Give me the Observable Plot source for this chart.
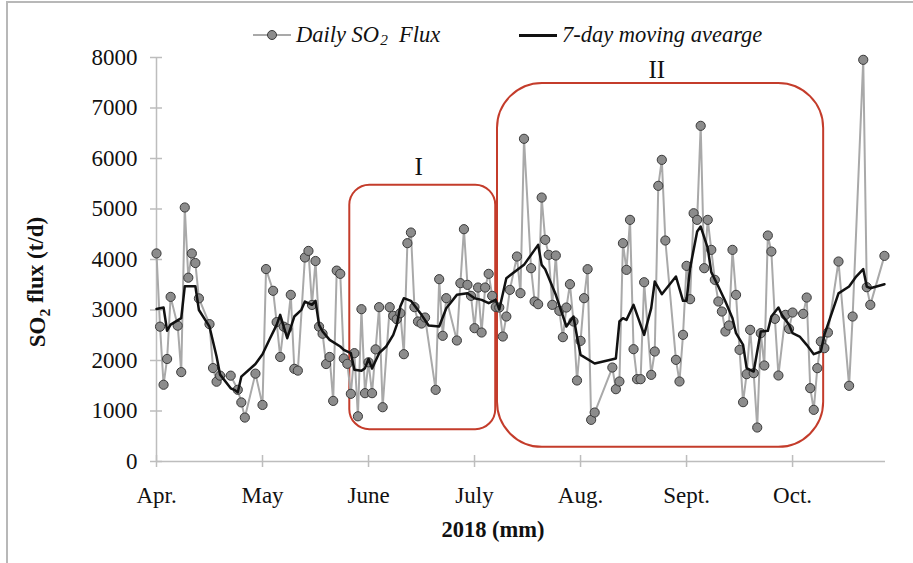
<!DOCTYPE html>
<html>
<head>
<meta charset="utf-8">
<script src="https://cdn.jsdelivr.net/npm/d3@7"></script>
<script src="https://cdn.jsdelivr.net/npm/@observablehq/plot@0.6"></script>
<style>
  html, body { margin: 0; padding: 0; background: #fff; }
  body { width: 913px; height: 563px; position: relative; overflow: hidden;
         font-family: "Liberation Serif", "Times New Roman", serif; color: #111; }
  #frameTop { position: absolute; left: 6px; top: 1px; width: 907px; height: 0; border-top: 2px solid #b8b8b8; }
  #frameLeft { position: absolute; left: 6px; top: 1px; width: 0; height: 562px; border-left: 2px solid #b8b8b8; }
  #legend { position: relative; height: 46px; }
  .lg { position: absolute; top: 22px; height: 26px; line-height: 26px; font-style: italic;
        font-size: 22.5px; white-space: nowrap; display: flex; align-items: center; }
  .sw { position: relative; display: inline-block; width: 38px; height: 26px; margin-right: 5px; }
  .sw .ln { position: absolute; left: 0; right: 0; top: 12px; height: 2px; }
  .sw .dt { position: absolute; left: 14px; top: 8px; border-radius: 50%;
            background: #8c8c8c; border: 1px solid #3a3a3a; box-sizing: border-box; width: 10px; height: 10px; }
  .lg .sb { font-size: 0.68em; position: relative; top: 0.35em; margin-left: 1px; }
  #chart { position: absolute; left: 0; top: 46px; }
</style>
</head>
<body>
<div id="frameTop"></div>
<div id="frameLeft"></div>
<div id="legend">
  <div class="lg" style="left:253px"><span class="sw"><span class="ln" style="background:#a9a9a9"></span><span class="dt"></span></span>Daily SO<span class="sb">2</span>&nbsp; Flux</div>
  <div class="lg" style="left:519px"><span class="sw"><span class="ln" style="background:#111;height:2.5px"></span></span>7-day moving avearge</div>
</div>
<div id="chart"></div>
<script>
// ---- Data (day offsets counted from 1 April 2018) ----
const days = [0,1,2,3,4,6,7,8,9,10,11,12,15,16,17,18,21,23,24,25,28,30,31,33,34,35,36,37,38,39,40,42,43,44,45,46,47,48,49,50,51,52,53,54,55,56,57,58,59,60,61,62,63,64,66,67,68,69,70,71,72,73,74,75,76,79,80,81,82,85,86,87,88,89,90,91,92,93,94,95,96,97,98,99,100,102,103,104,106,107,108,109,110,111,112,113,114,115,116,117,118,119,120,121,122,123,124,129,130,131,132,133,134,135,136,137,138,140,141,142,143,144,147,148,149,150,151,152,153,154,155,156,157,158,159,160,161,162,163,164,165,166,167,168,169,170,171,172,173,174,175,176,178,179,180,183,184,185,186,187,188,189,190,193,196,197,200,201,202,206];
const flux = [4120,2670,1520,2030,3260,2690,1770,5030,3640,4120,3930,3230,2720,1850,1580,1700,1700,1420,1170,870,1740,1120,3810,3380,2760,2070,2670,2630,3300,1835,1800,4040,4170,3100,3970,2670,2530,1930,2070,1200,3780,3716,2040,1934,1340,2145,895,3016,1353,1965,1353,2220,3056,1075,3056,2885,2818,2937,2125,4323,4534,3056,2772,2732,2851,1419,3610,2489,3234,2396,3531,4600,3498,3280,2640,3445,2554,3445,3716,3280,3060,3049,2475,2871,3399,4059,3333,6390,3828,3168,3115,5227,4390,4092,3102,4079,2984,2462,3049,3511,2772,1604,2389,3234,3808,825,970,1861,1432,1584,4323,3795,4785,2224,1630,1630,3550,1716,2178,5459,5973,4376,2013,1584,2508,3874,3214,4916,4785,6647,3828,4785,4191,3597,3168,2970,2574,2693,4191,3300,2211,1175,1729,2607,1749,673,2541,1901,4475,4158,2825,1703,2904,2627,2950,2924,3247,1452,1023,1848,2376,2244,2554,3960,1499,2871,7954,3451,3102,4072];

const maDays = [0,2,3,4,7,8,11,12,15,17,18,21,22,23,24,28,30,32,34,35,36,37,39,41,42,44,45,46,47,49,52,53,55,56,58,59,60,61,63,65,67,68,69,70,72,75,77,80,82,85,88,90,92,94,96,97,99,104,108,109,110,113,116,118,119,120,124,130,131,132,133,135,138,140,141,143,147,149,150,151,153,154,156,157,159,161,163,164,166,167,169,170,171,173,174,176,177,179,180,182,184,186,188,189,193,196,198,200,201,202,206];
const maFlux = [3020,3050,2590,2710,2840,3470,3470,3000,2670,2080,1720,1450,1420,1370,1680,1930,2125,2420,2706,2904,2673,2442,2871,3003,3168,3102,3181,2706,2574,2409,2277,2211,2145,1815,1796,1848,2030,1840,2145,2277,2508,2706,3069,3234,3181,2904,2693,2673,3036,3300,3333,3234,3201,3135,3201,3010,3630,3894,4290,3894,3808,3300,2673,2871,2475,2112,1940,2040,2772,2838,2805,3102,2508,3036,3564,3313,3663,3181,3181,3828,4554,4653,4224,3750,3465,3168,2838,2541,2310,1848,1782,2178,2574,2587,2871,3049,2900,2706,2541,2475,2310,2125,2178,2508,3330,3465,3663,3808,3465,3432,3511];

const tickDays = [0,30,60,90,120,150,180];
const monthLabels = ["Apr.","May","June","July","Aug.","Sept.","Oct."];
const yTicks = [0,1000,2000,3000,4000,5000,6000,7000,8000];

// highlighted periods (day range, flux range) and their labels
const periodLabels = ["I","II"];
const periodX1 = [54.7, 96.5];
const periodX2 = [96.0, 188.8];
const periodY1 = [630, 280];
const periodY2 = [5470, 7486];
const periodLabelX = [74.2, 141.6];
const periodLabelY = [5830, 7750];

const daily = days.map((d, i) => ({day: d, value: flux[i]}));
const ma = maDays.map((d, i) => ({day: d, value: maFlux[i]}));
const periods = periodLabels.map((l, i) => ({label: l, x1: periodX1[i], x2: periodX2[i], y1: periodY1[i], y2: periodY2[i], lx: periodLabelX[i], ly: periodLabelY[i]}));

const axisGray = "#bdbdbd";
const red = "#c43c2b";

const chart = Plot.plot({
  width: 913,
  height: 517,
  marginLeft: 156,
  marginRight: 28,
  marginTop: 11,
  marginBottom: 102,
  style: {fontFamily: "'Liberation Serif', 'Times New Roman', serif", fontSize: "23px", color: "#111", background: "transparent"},
  x: {type: "linear", domain: [0, 206.3]},
  y: {domain: [0, 8000]},
  marks: [
    Plot.ruleY([0], {stroke: axisGray, strokeWidth: 1.5}),
    Plot.ruleX([0], {stroke: axisGray, strokeWidth: 1.5}),
    Plot.axisX(tickDays, {tickSize: 12, dy: -6, stroke: axisGray, strokeWidth: 1.5, fill: "none", label: null}),
    Plot.axisX(tickDays, {tickSize: 0, tickPadding: 25, tickFormat: d => monthLabels[tickDays.indexOf(d)], fill: "#111", label: null}),
    Plot.axisY(yTicks, {tickSize: 12, dx: 6, stroke: axisGray, strokeWidth: 1.5, fill: "none", label: null}),
    Plot.axisY(yTicks, {tickSize: 0, tickPadding: 19, tickFormat: d => String(d), fill: "#111", label: null}),
    Plot.rect(periods.filter(p => p.label === "I"), {x1: "x1", x2: "x2", y1: "y1", y2: "y2", rx: 20, fill: "none", stroke: red, strokeWidth: 2}),
    Plot.rect(periods.filter(p => p.label === "II"), {x1: "x1", x2: "x2", y1: "y1", y2: "y2", rx: 45, fill: "none", stroke: red, strokeWidth: 2}),
    Plot.text(periods, {x: "lx", y: "ly", text: "label", fontSize: 25, fill: "#111"}),
    Plot.line(daily, {x: "day", y: "value", stroke: "#a9a9a9", strokeWidth: 2}),
    Plot.dot(daily, {x: "day", y: "value", r: 4.6, fill: "#8c8c8c", stroke: "#3a3a3a", strokeWidth: 1}),
    Plot.line(ma, {x: "day", y: "value", stroke: "#111", strokeWidth: 2.5}),
    Plot.text(["SO2 flux (t/d)"], {frameAnchor: "left", rotate: -90, fontWeight: "bold", fontSize: 23, fill: "#111", className: "ytitle"}),
    Plot.text(["2018 (mm)"], {frameAnchor: "bottom", dx: -28, dy: 75, fontWeight: "bold", fontSize: 22.5, fill: "#111"})
  ]
});

// y-axis title: true subscript for SO2, placed left of the tick labels
chart.querySelectorAll("text").forEach(t => {
  if (t.textContent === "SO2 flux (t/d)") {
    while (t.firstChild) t.removeChild(t.firstChild);
    const ns = "http://www.w3.org/2000/svg";
    const a = document.createElementNS(ns, "tspan"); a.textContent = "SO";
    const b = document.createElementNS(ns, "tspan"); b.textContent = "2"; b.setAttribute("dy", "0.3em"); b.setAttribute("font-size", "0.68em");
    const c = document.createElementNS(ns, "tspan"); c.textContent = " flux (t/d)"; c.setAttribute("dy", "-0.3em");
    t.append(a, b, c);
    t.removeAttribute("x"); t.removeAttribute("y");
    t.setAttribute("text-anchor", "middle");
    t.setAttribute("transform", "translate(45,236) rotate(-90)");
    if (t.parentNode && t.parentNode.removeAttribute) t.parentNode.removeAttribute("transform");
  }
});

document.getElementById("chart").appendChild(chart);
</script>
</body>
</html>
